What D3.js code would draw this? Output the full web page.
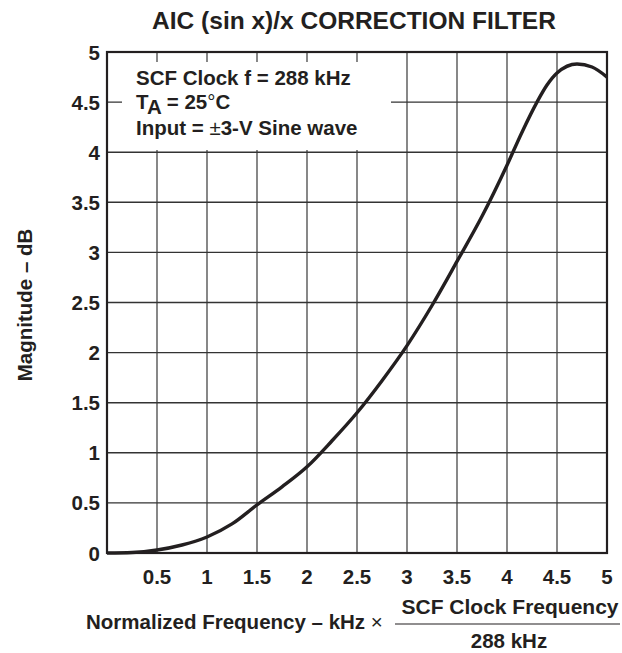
<!DOCTYPE html>
<html>
<head>
<meta charset="utf-8">
<script src="https://cdn.jsdelivr.net/npm/d3@7"></script>
<style>
  body { margin: 0; background: #fff; }
  text { font-family: "Liberation Sans", Arial, sans-serif; font-weight: bold; fill: #231f20; }
  .thin { font-weight: normal; }
</style>
</head>
<body>
<svg id="chart" width="622" height="653"></svg>
<script>
// curve: normalized frequency vs magnitude (dB)
const freq = [0, 0.25, 0.5, 0.75, 1.0, 1.25, 1.5, 1.75, 2.0, 2.25, 2.5, 2.75, 3.0, 3.25, 3.5, 3.75, 4.0, 4.15, 4.3, 4.4, 4.5, 4.7, 4.85, 5.0];
const magnitude = [0, 0.005, 0.03, 0.08, 0.16, 0.29, 0.48, 0.66, 0.86, 1.12, 1.40, 1.72, 2.07, 2.47, 2.91, 3.36, 3.87, 4.2, 4.5, 4.67, 4.79, 4.88, 4.85, 4.75];
const xTicks = [0.5, 1, 1.5, 2, 2.5, 3, 3.5, 4, 4.5, 5];
const yTicks = [0, 0.5, 1, 1.5, 2, 2.5, 3, 3.5, 4, 4.5, 5];

const svg = d3.select("#chart");
const margin = { top: 52, right: 15, bottom: 100, left: 107 };
const width = 622 - margin.left - margin.right;
const height = 653 - margin.top - margin.bottom;
const fs = 20.5;

const x = d3.scaleLinear().domain([0, 5]).range([0, width]);
const y = d3.scaleLinear().domain([0, 5]).range([height, 0]);

const g = svg.append("g").attr("transform", `translate(${margin.left},${margin.top})`);

// grid
g.selectAll(".vgrid").data(xTicks.slice(0, -1)).enter().append("line")
  .attr("x1", (d) => x(d)).attr("x2", (d) => x(d))
  .attr("y1", 0).attr("y2", height)
  .attr("stroke", "#555").attr("stroke-width", 1.4);
g.selectAll(".hgrid").data(yTicks.slice(1, -1)).enter().append("line")
  .attr("x1", 0).attr("x2", width)
  .attr("y1", (d) => y(d)).attr("y2", (d) => y(d))
  .attr("stroke", "#333").attr("stroke-width", 1.4);

// white box behind the notes
g.append("rect")
  .attr("x", 15).attr("y", 10)
  .attr("width", 269).attr("height", 88)
  .attr("fill", "#fff");

// frame
g.append("rect")
  .attr("width", width).attr("height", height)
  .attr("fill", "none").attr("stroke", "#231f20").attr("stroke-width", 2.2);

// curve
const line = d3.line()
  .x((d, i) => x(freq[i]))
  .y((d) => y(d))
  .curve(d3.curveMonotoneX);
g.append("path")
  .datum(magnitude)
  .attr("d", line)
  .attr("fill", "none")
  .attr("stroke", "#231f20")
  .attr("stroke-width", 3.4);

// tick labels
g.selectAll(".xl").data(xTicks).enter().append("text")
  .attr("x", (d) => x(d)).attr("y", height + 31)
  .attr("text-anchor", "middle").attr("font-size", fs)
  .text((d) => d);
g.selectAll(".yl").data(yTicks).enter().append("text")
  .attr("x", -7).attr("y", (d) => y(d) + 7.5)
  .attr("text-anchor", "end").attr("font-size", fs)
  .text((d) => d);

// notes
const n1 = g.append("text").attr("x", 29).attr("y", 33).attr("font-size", fs);
n1.text("SCF Clock f = 288 kHz");
const n2 = g.append("text").attr("x", 29).attr("y", 57).attr("font-size", fs);
n2.append("tspan").text("T");
n2.append("tspan").attr("dy", 5).text("A");
n2.append("tspan").attr("dy", -5).text(" = 25");
n2.append("tspan").attr("class", "thin").text("°");
n2.append("tspan").text("C");
const n3 = g.append("text").attr("x", 29).attr("y", 83).attr("font-size", fs);
n3.append("tspan").text("Input = ");
n3.append("tspan").attr("class", "thin").text("±");
n3.append("tspan").text("3-V Sine wave");

// title
svg.append("text")
  .attr("x", 354).attr("y", 29)
  .attr("text-anchor", "middle").attr("font-size", 24.5)
  .text("AIC (sin x)/x CORRECTION FILTER");

// y label
svg.append("text")
  .attr("transform", "translate(32,305) rotate(-90)")
  .attr("text-anchor", "middle").attr("font-size", fs)
  .text("Magnitude – dB");

// x label with fraction
const xl = svg.append("text")
  .attr("x", 86).attr("y", 629).attr("font-size", fs)
  .text("Normalized Frequency – kHz ");
xl.append("tspan").attr("class", "thin").text("×");
svg.append("text")
  .attr("x", 510).attr("y", 614)
  .attr("text-anchor", "middle").attr("font-size", 21)
  .text("SCF Clock Frequency");
svg.append("line")
  .attr("x1", 395).attr("x2", 620)
  .attr("y1", 624).attr("y2", 624)
  .attr("stroke", "#231f20").attr("stroke-width", 1.2);
svg.append("text")
  .attr("x", 509).attr("y", 648)
  .attr("text-anchor", "middle").attr("font-size", fs)
  .text("288 kHz");
</script>
</body>
</html>
